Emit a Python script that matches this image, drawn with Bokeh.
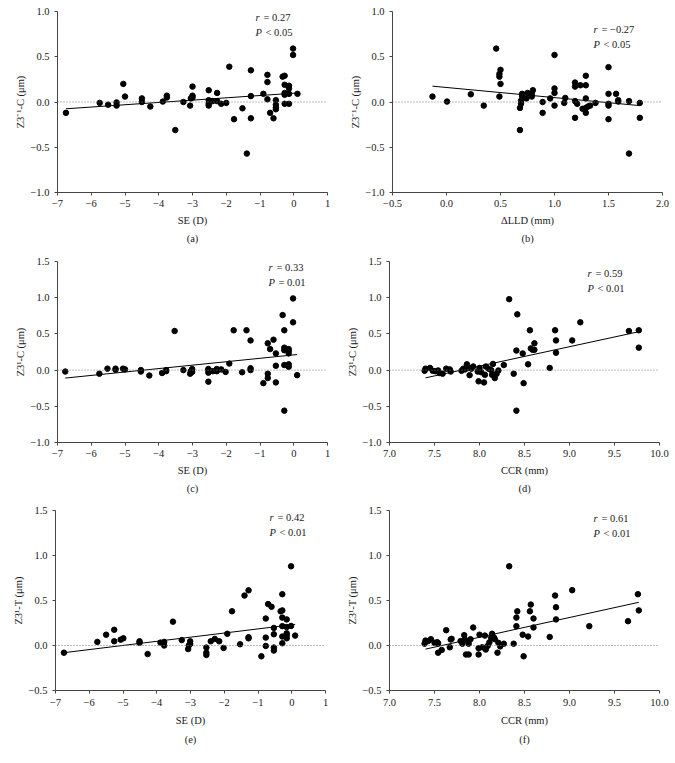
from bokeh.plotting import figure
from bokeh.layouts import column, row
from bokeh.models import Range1d, FixedTicker, Span, Label, Title
from bokeh.embed import file_html
from bokeh.resources import INLINE

# ---------------- data ----------------
a_x = [-6.75,-5.75,-5.5,-5.25,-5.25,-5.05,-5.0,-4.5,-4.5,-4.25,-3.88,-3.76,-3.76,-3.51,-3.27,-3.07,-3.05,-3.0,-3.0,-3.0,
       -2.52,-2.52,-2.52,-2.52,-2.4,-2.27,-2.27,-2.15,-2.0,-1.91,-1.77,-1.52,-1.39,-1.27,-1.27,-1.27,-0.9,-0.78,-0.78,-0.78,
       -0.7,-0.6,-0.53,-0.53,-0.53,-0.53,-0.33,-0.27,-0.27,-0.27,-0.27,-0.27,-0.14,-0.14,-0.14,-0.14,-0.02,-0.02,0.11]
a_y = [-0.12,-0.01,-0.03,-0.005,-0.04,0.20,0.06,0.04,0.0,-0.05,0.005,0.05,0.07,-0.31,0.0,-0.04,0.04,0.07,0.17,0.05,
       0.13,0.02,-0.02,-0.04,0.01,0.01,0.10,-0.02,-0.01,0.39,-0.19,-0.07,-0.57,0.35,0.065,-0.18,0.09,0.30,0.22,0.03,
       -0.12,-0.18,0.02,-0.03,-0.06,-0.08,0.28,0.29,0.19,0.10,0.08,-0.02,0.18,0.15,0.09,-0.02,0.59,0.52,0.09]
a_fit_x = [-6.75, 0.11]
a_fit_y = [-0.075, 0.10]

b_x = [-0.13,0.005,0.225,0.345,0.46,0.49,0.49,0.49,0.50,0.50,0.68,0.68,0.69,0.69,0.70,0.70,0.74,0.75,0.79,0.79,
       0.80,0.89,0.89,0.96,1.0,1.0,1.0,1.0,1.10,1.09,1.19,1.19,1.19,1.19,1.21,1.24,1.26,1.29,1.29,1.29,
       1.29,1.29,1.31,1.33,1.38,1.50,1.50,1.50,1.50,1.50,1.57,1.59,1.59,1.69,1.69,1.79,1.79]
b_y = [0.06,0.005,0.085,-0.04,0.59,0.06,0.28,0.31,0.355,0.20,-0.31,-0.065,-0.02,0.015,0.065,0.09,0.04,0.10,0.06,0.09,
       0.13,0.0,-0.12,0.04,0.52,0.15,0.10,-0.04,0.045,-0.01,0.215,0.17,0.01,-0.175,-0.02,0.185,-0.075,-0.065,0.29,0.185,
       0.04,-0.12,-0.05,-0.04,-0.01,0.385,0.09,-0.02,-0.04,-0.19,0.09,0.02,0.005,0.01,-0.57,-0.01,-0.175]
b_fit_x = [-0.13, 1.79]
b_fit_y = [0.175, -0.04]

c_x = [-6.77,-5.76,-5.52,-5.28,-5.28,-5.06,-5.0,-4.53,-4.53,-4.28,-3.9,-3.78,-3.78,-3.53,-3.27,-3.07,-3.05,-3.01,-3.01,
       -2.53,-2.53,-2.53,-2.53,-2.4,-2.28,-2.28,-2.15,-2.02,-1.91,-1.78,-1.53,-1.40,-1.28,-1.28,-1.28,-0.90,-0.77,-0.77,-0.77,
       -0.70,-0.60,-0.53,-0.53,-0.53,-0.33,-0.28,-0.28,-0.28,-0.28,-0.28,-0.15,-0.15,-0.15,-0.15,-0.15,-0.02,-0.02,0.10]
c_y = [-0.02,-0.05,0.02,0.02,0.005,0.02,0.01,0.0,-0.02,-0.075,-0.04,-0.015,0.0,0.54,0.0,-0.05,-0.015,0.015,-0.025,
       -0.16,-0.035,0.0,0.015,-0.015,0.015,-0.015,0.01,-0.025,0.09,0.55,-0.03,0.55,0.41,0.025,0.0,-0.18,0.37,-0.05,-0.11,
       0.29,0.42,0.23,0.06,-0.17,0.76,0.55,0.31,0.275,0.07,-0.56,0.29,0.265,0.23,0.08,0.045,0.99,0.66,-0.07]
c_fit_x = [-6.77, 0.10]
c_fit_y = [-0.11, 0.215]

d_x = [7.39,7.40,7.45,7.48,7.51,7.54,7.555,7.59,7.63,7.67,7.68,7.80,7.82,7.84,7.86,7.88,7.89,7.91,7.93,7.98,
       7.99,8.00,8.02,8.05,8.06,8.07,8.10,8.13,8.14,8.15,8.17,8.19,8.21,8.27,8.38,
       8.33,8.41,8.41,8.42,8.48,8.49,8.54,8.56,8.57,8.59,8.61,8.61,8.78,8.84,8.85,8.85,9.03,9.12,9.66,9.77,9.77]
d_y = [-0.01,0.02,0.03,-0.01,-0.015,-0.005,-0.04,-0.05,0.02,0.01,-0.02,-0.01,0.02,0.01,0.08,0.03,-0.07,0.02,0.05,-0.02,
       -0.155,0.03,-0.03,-0.17,-0.065,0.05,0.02,0.0,-0.065,0.085,-0.11,-0.05,-0.005,0.07,-0.05,
       0.98,0.27,-0.56,0.77,0.23,-0.18,0.08,0.55,0.30,0.28,0.37,0.28,0.03,0.55,0.41,0.24,0.41,0.66,0.54,0.55,0.31]
d_fit_x = [7.40, 9.77]
d_fit_y = [-0.107, 0.53]

e_x = [-6.75,-5.76,-5.5,-5.26,-5.26,-5.07,-4.99,-4.51,-4.51,-4.27,-3.89,-3.78,-3.78,-3.52,-3.26,-3.07,-3.05,-3.01,-3.01,
       -2.53,-2.53,-2.53,-2.40,-2.28,-2.15,-2.02,-1.91,-1.77,-1.53,-1.40,-1.28,-1.28,-1.28,-0.90,-0.77,-0.77,-0.77,
       -0.70,-0.60,-0.53,-0.53,-0.53,-0.53,-0.33,-0.28,-0.28,-0.28,-0.28,-0.28,-0.28,-0.15,-0.15,-0.15,-0.15,-0.15,
       -0.02,-0.02,0.10]
e_y = [-0.08,0.04,0.12,0.175,0.047,0.065,0.08,0.047,0.03,-0.095,0.032,0.04,0.0,0.265,0.06,-0.04,0.0,0.047,0.018,
       -0.023,-0.08,-0.105,0.047,0.073,0.047,-0.027,0.13,0.38,0.014,0.555,0.613,0.092,0.08,-0.12,0.30,0.088,-0.005,
       0.46,0.43,0.195,0.125,-0.023,-0.056,0.38,0.57,0.39,0.31,0.215,0.10,0.025,0.29,0.205,0.135,0.11,0.08,
       0.88,0.217,0.11]
e_fit_x = [-6.75, 0.10]
e_fit_y = [-0.08, 0.235]

f_x = [7.39,7.40,7.43,7.46,7.50,7.53,7.54,7.54,7.58,7.63,7.67,7.68,7.69,7.79,7.81,7.83,7.84,7.85,7.88,7.88,
       7.90,7.93,7.99,7.99,8.00,8.03,8.06,8.07,8.09,8.11,8.13,8.14,8.16,8.17,8.20,8.21,8.23,8.27,8.38,
       8.33,8.41,8.41,8.42,8.48,8.49,8.54,8.56,8.57,8.60,8.60,8.78,8.84,8.85,8.85,9.03,9.22,9.65,9.76,9.77]
f_y = [0.02,0.055,0.05,0.07,0.03,0.037,0.026,-0.08,-0.05,0.17,-0.02,0.067,0.074,0.05,0.02,0.115,0.063,-0.10,-0.10,0.02,
       0.07,0.20,-0.10,-0.03,0.12,-0.02,0.11,-0.045,-0.005,0.035,0.085,0.13,0.09,0.07,-0.08,0.03,-0.01,0.02,0.02,
       0.88,0.31,0.215,0.38,0.12,-0.12,0.10,0.38,0.455,0.30,0.20,0.095,0.555,0.425,0.29,0.615,0.215,0.27,0.57,0.39]
f_fit_x = [7.40, 9.77]
f_fit_y = [-0.04, 0.48]

# ticks and labels
se_ticks = [-7, -6, -5, -4, -3, -2, -1, 0, 1]
se_labels = ["\u22127", "\u22126", "\u22125", "\u22124", "\u22123", "\u22122", "\u22121", "0", "1"]
lld_ticks = [-0.5, 0.0, 0.5, 1.0, 1.5, 2.0]
lld_labels = ["\u22120.5", "0.0", "0.5", "1.0", "1.5", "2.0"]
ccr_ticks = [7.0, 7.5, 8.0, 8.5, 9.0, 9.5, 10.0]
ccr_labels = ["7.0", "7.5", "8.0", "8.5", "9.0", "9.5", "10.0"]
y1_ticks = [-1.0, -0.5, 0.0, 0.5, 1.0]
y1_labels = ["\u22121.0", "\u22120.5", "0.0", "0.5", "1.0"]
y2_ticks = [-1.0, -0.5, 0.0, 0.5, 1.0, 1.5]
y2_labels = ["\u22121.0", "\u22120.5", "0.0", "0.5", "1.0", "1.5"]
y3_ticks = [-0.5, 0.0, 0.5, 1.0, 1.5]
y3_labels = ["\u22120.5", "0.0", "0.5", "1.0", "1.5"]

r_values = ["0.27", "\u22120.27", "0.33", "0.59", "0.42", "0.61"]
p_values = ["< 0.05", "< 0.05", "= 0.01", "< 0.01", "< 0.01", "< 0.01"]
captions = ["(a)", "(b)", "(c)", "(d)", "(e)", "(f)"]
x_titles = ["SE (D)", "\u0394LLD (mm)", "SE (D)", "CCR (mm)", "SE (D)", "CCR (mm)"]
y_titles = ["Z3\u207b\u00b9-C (\u03bcm)", "Z3\u207b\u00b9-C (\u03bcm)", "Z3\u00b9-C (\u03bcm)",
            "Z3\u00b9-C (\u03bcm)", "Z3\u00b9-T (\u03bcm)", "Z3\u00b9-T (\u03bcm)"]

FONT = "Liberation Serif"
TXT = "#1a1a1a"
AX = "#444444"
FS = "10.5px"


def panel(i, xs, ys, fx, fy, xt, xl, yt, yl, width, height, left, fh, ann_dx, ann_dy, gap):
    x0, x1 = xt[0], xt[-1]
    y0, y1 = yt[0], yt[-1]
    right = width - left - 270
    p = figure(width=width, height=height, output_backend="svg", toolbar_location=None,
               x_range=Range1d(x0, x1), y_range=Range1d(y0, y1),
               min_border_left=left, min_border_right=right, min_border_top=11,
               min_border_bottom=height - 11 - fh)
    p.outline_line_color = None
    p.grid.visible = False
    p.background_fill_color = "white"
    p.border_fill_color = "white"
    for ax, ticks, labels in ((p.xaxis[0], xt, xl), (p.yaxis[0], yt, yl)):
        ax.ticker = FixedTicker(ticks=ticks)
        ax.major_label_overrides = {t: s for t, s in zip(ticks, labels)}
        ax.minor_tick_line_color = None
        ax.major_tick_in = 0
        ax.major_tick_out = 3
        ax.axis_line_color = AX
        ax.major_tick_line_color = AX
        ax.major_label_text_font = FONT
        ax.major_label_text_font_size = FS
        ax.major_label_text_color = TXT
        ax.axis_label_text_font = FONT
        ax.axis_label_text_font_size = FS
        ax.axis_label_text_font_style = "normal"
        ax.axis_label_text_color = TXT
    p.xaxis.axis_label = x_titles[i]
    p.xaxis.major_label_standoff = 4 + gap // 2
    p.xaxis.axis_label_standoff = 5 + gap // 2
    p.yaxis.major_label_standoff = 5

    # y-axis title as a side-panel title
    p.add_layout(Title(text=y_titles[i], align="center", text_font=FONT, text_font_size=FS,
                       text_font_style="normal", text_color=TXT, standoff=4), "left")

    p.add_layout(Span(location=0, dimension="width", line_color="#777777",
                      line_dash="1 2", line_width=1))
    p.line(fx, fy, line_color="black", line_width=1)
    p.scatter(xs, ys, size=5.5, color="black")

    ax_x = x0 + ann_dx / 270 * (x1 - x0)
    for letter, rest, dy, off in (("r", "= " + r_values[i], ann_dy, 8),
                                  ("P", p_values[i], ann_dy + 15, 10)):
        yy = y1 - dy / fh * (y1 - y0)
        p.add_layout(Label(x=ax_x, y=yy, text=letter, text_font=FONT, text_font_size=FS,
                           text_font_style="italic", text_color=TXT, text_baseline="middle"))
        p.add_layout(Label(x=ax_x, y=yy, x_offset=off, text=rest,
                           text_font=FONT, text_font_size=FS, text_color=TXT,
                           text_baseline="middle"))
    p.add_layout(Title(text=captions[i], align="center", text_font=FONT, text_font_size=FS,
                       text_font_style="normal", text_color=TXT, standoff=4 + gap), "below")
    return p


LW, RW = 335, 339
H1, H2, H3 = 250, 249, 262
pa = panel(0, a_x, a_y, a_fit_x, a_fit_y, se_ticks, se_labels, y1_ticks, y1_labels, LW, H1, 57, 181, 198, 6, 0)
pb = panel(1, b_x, b_y, b_fit_x, b_fit_y, lld_ticks, lld_labels, y1_ticks, y1_labels, RW, H1, 57, 181, 201, 18, 0)
pc = panel(2, c_x, c_y, c_fit_x, c_fit_y, se_ticks, se_labels, y2_ticks, y2_labels, LW, H2, 57, 181, 211, 6, 0)
pd = panel(3, d_x, d_y, d_fit_x, d_fit_y, ccr_ticks, ccr_labels, y2_ticks, y2_labels, RW, H2, 54, 181, 198, 12, 0)
pe = panel(4, e_x, e_y, e_fit_x, e_fit_y, se_ticks, se_labels, y3_ticks, y3_labels, LW, H3, 55, 180, 214, 7, 2)
pf = panel(5, f_x, f_y, f_fit_x, f_fit_y, ccr_ticks, ccr_labels, y3_ticks, y3_labels, RW, H3, 54, 180, 204, 8, 2)

layout = column(row(pa, pb), row(pc, pd), row(pe, pf))
open("out.html", "w").write(file_html(layout, INLINE))
